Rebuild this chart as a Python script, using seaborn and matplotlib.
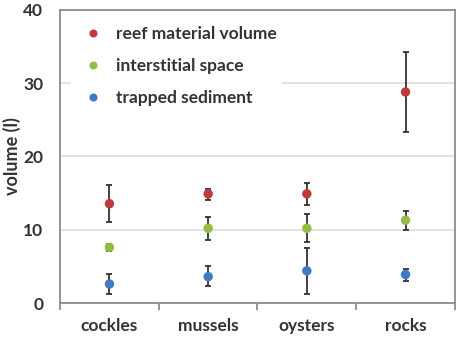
import matplotlib
matplotlib.use("Agg")
import matplotlib.pyplot as plt
import seaborn as sns
import pandas as pd
import numpy as np

categories = ["cockles", "mussels", "oysters", "rocks"]
series = ["reef material volume", "interstitial space", "trapped sediment"]
reef = [13.55, 14.9, 14.9, 28.8]
reef_lo = [11.0, 14.1, 13.4, 23.4]
reef_hi = [16.05, 15.6, 16.4, 34.2]
inter = [7.6, 10.2, 10.2, 11.3]
inter_lo = [7.1, 8.6, 8.3, 10.0]
inter_hi = [8.1, 11.8, 12.1, 12.5]
sed = [2.6, 3.6, 4.4, 3.9]
sed_lo = [1.3, 2.3, 1.3, 3.0]
sed_hi = [3.9, 5.0, 7.5, 4.7]
colors = ["#C0393B", "#94BD42", "#3F7AC4"]

sns.set_style("white")
plt.rcParams['font.family'] = ['Lato', 'DejaVu Sans']

rows = []
for s, vals, lo, hi in zip(series, [reef, inter, sed], [reef_lo, inter_lo, sed_lo], [reef_hi, inter_hi, sed_hi]):
    for c, v, l, h in zip(categories, vals, lo, hi):
        rows.append(dict(category=c, series=s, value=v, lo=l, hi=h))
df = pd.DataFrame(rows)

fig = plt.figure(figsize=(4.59, 3.39), dpi=100)
ax = fig.add_axes([0.131, 0.106, 0.86, 0.865])

pos = {c: i for i, c in enumerate(categories)}
for s in series:
    d = df[df.series == s]
    x = d.category.map(pos).to_numpy()
    ax.errorbar(x, d.value, yerr=[d.value - d.lo, d.hi - d.value], fmt="none",
                ecolor="#333333", elinewidth=1.3, capsize=2.5, capthick=1.3, zorder=2)

sns.stripplot(data=df, x="category", y="value", hue="series", order=categories,
              hue_order=series, palette=colors, jitter=False, dodge=False,
              size=6.8, linewidth=0, ax=ax, zorder=3)

ax.set_xlim(-0.5, 3.5)
ax.set_ylim(0, 40)
ax.set_yticks([0, 10, 20, 30, 40])
ax.yaxis.grid(True, color="#dddddd", linewidth=1.2)
ax.set_axisbelow(True)
for sp in ax.spines.values():
    sp.set_color("#8c8c8c")
    sp.set_linewidth(1.3)
ax.set_xlabel("")
ax.set_ylabel("volume (l)", fontsize=13, fontweight="bold", color="#333333", labelpad=2)
ax.set_xticks([0, 1, 2, 3])
ax.set_xticklabels(categories)
ax.set_xticks([0.5, 1.5, 2.5, 3.5, -0.5], minor=True)
ax.tick_params(axis="x", which="major", length=0, pad=11, labelsize=12.5, labelcolor="#333333")
ax.tick_params(axis="x", which="minor", length=5, width=1.3, color="#8c8c8c", direction="out", bottom=True)
ax.tick_params(axis="y", length=0, pad=12, labelsize=12.5, labelcolor="#333333")
for lab in ax.get_xticklabels() + ax.get_yticklabels():
    lab.set_fontweight("bold")

leg = ax.legend(loc="upper left", bbox_to_anchor=(0.005, 0.992), frameon=True, facecolor="white",
                edgecolor="none", framealpha=1, fontsize=12.5, labelspacing=0.93,
                handletextpad=0.3, markerscale=0.85, borderpad=0.3)
for t in leg.get_texts():
    t.set_fontweight("bold")
    t.set_color("#333333")

fig.savefig("out.png", dpi=100)
